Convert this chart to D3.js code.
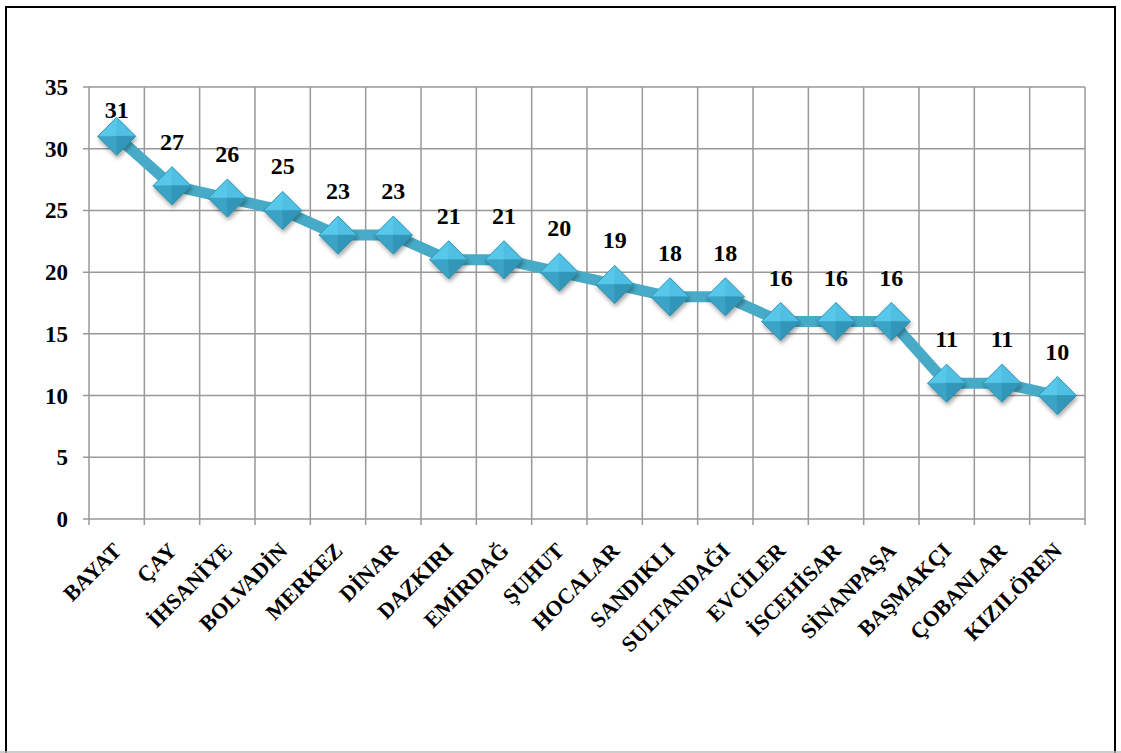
<!DOCTYPE html>
<html><head><meta charset="utf-8">
<script src="https://cdn.jsdelivr.net/npm/d3@7"></script>
<style>body{margin:0;background:#fff}svg{display:block}</style>
</head><body>
<script>
const categories = ["BAYAT","ÇAY","İHSANİYE","BOLVADİN","MERKEZ","DİNAR","DAZKIRI","EMİRDAĞ","ŞUHUT","HOCALAR","SANDIKLI","SULTANDAĞI","EVCİLER","İSCEHİSAR","SİNANPAŞA","BAŞMAKÇI","ÇOBANLAR","KIZILÖREN"];
const values = [31,27,26,25,23,23,21,21,20,19,18,18,16,16,16,11,11,10];
const yTicks = [0,5,10,15,20,25,30,35];

const W = 1121, H = 753;
const svg = d3.select("body").append("svg").attr("width", W).attr("height", H);
svg.append("rect").attr("width", W).attr("height", H).attr("fill", "#fff");
svg.append("rect").attr("x", 6).attr("y", 7).attr("width", 1109).attr("height", 760)
  .attr("fill", "none").attr("stroke", "#000").attr("stroke-width", 2);
svg.append("line").attr("x1", 0).attr("x2", W).attr("y1", 752).attr("y2", 752).attr("stroke", "#bbb").attr("stroke-width", 1.5);

const L = 89, R = 1085, T = 87, B = 519;
const x = d3.scaleBand().domain(categories).range([L, R]);
const y = d3.scaleLinear().domain([0, 35]).range([B, T]);
const font = "'Liberation Serif','Times New Roman',serif";

// horizontal gridlines
svg.append("g").selectAll("line").data(yTicks).join("line")
  .attr("x1", L - 6).attr("x2", R).attr("y1", d => y(d)).attr("y2", d => y(d))
  .attr("stroke", "#999").attr("stroke-width", 1.5);
// vertical gridlines (category boundaries)
const bounds = categories.map(c => x(c)).concat([R]);
svg.append("g").selectAll("line").data(bounds).join("line")
  .attr("x1", d => d).attr("x2", d => d).attr("y1", T).attr("y2", B + 6)
  .attr("stroke", "#999").attr("stroke-width", 1.5);

// y labels
svg.append("g").selectAll("text").data(yTicks).join("text")
  .attr("x", 68).attr("y", d => y(d)).attr("dy", "0.35em").attr("text-anchor", "end")
  .attr("font-family", font).attr("font-weight", "bold").attr("font-size", 23)
  .text(d => d);

// x labels
svg.append("g").selectAll("text").data(categories).join("text")
  .attr("transform", d => `translate(${x(d) + x.bandwidth()/2 + 6},${B + 33}) rotate(-45)`)
  .attr("text-anchor", "end")
  .attr("font-family", font).attr("font-weight", "bold").attr("font-size", 22)
  .text(d => d);

const cx = (d, i) => x(categories[i]) + x.bandwidth()/2;
const pts = values.map((v, i) => [cx(v, i), y(v)]);

// line
svg.append("path").datum(pts)
  .attr("d", d3.line())
  .attr("fill", "none").attr("stroke", "#47abc7").attr("stroke-width", 11)
  .attr("stroke-linejoin", "round").attr("stroke-linecap", "round");

// markers
const defs = svg.append("defs");
const f = defs.append("filter").attr("id", "sh").attr("x", "-50%").attr("y", "-50%").attr("width", "200%").attr("height", "200%");
f.append("feGaussianBlur").attr("in", "SourceAlpha").attr("stdDeviation", 2);
f.append("feOffset").attr("dx", 1).attr("dy", 3).attr("result", "o");
f.append("feComponentTransfer").append("feFuncA").attr("type", "linear").attr("slope", 0.35);
const m = f.append("feMerge"); m.append("feMergeNode"); m.append("feMergeNode").attr("in", "SourceGraphic");

const s = 19;
const mk = svg.append("g").selectAll("g").data(pts).join("g")
  .attr("transform", d => `translate(${d[0]},${d[1]})`).attr("filter", "url(#sh)");
const facets = [
  {p: [[0,-s],[-s,0],[0,0]], c: "#58c8ea"},
  {p: [[0,-s],[s,0],[0,0]], c: "#4fbfe3"},
  {p: [[-s,0],[0,s],[0,0]], c: "#3ba4c6"},
  {p: [[s,0],[0,s],[0,0]], c: "#3196b8"}
];
mk.selectAll("path").data(facets).join("path")
  .attr("d", d => "M" + d.p.map(q => q.join(",")).join("L") + "Z")
  .attr("fill", d => d.c).attr("stroke", d => d.c).attr("stroke-width", 0.5);
mk.append("path").attr("d", `M0,${-s}L${s},0L0,${s}L${-s},0Z`).attr("fill", "none")
  .attr("stroke", "#2a8aa8").attr("stroke-width", 0.8);

// data labels
svg.append("g").selectAll("text").data(values).join("text")
  .attr("x", (d, i) => pts[i][0]).attr("y", d => Math.max(y(d) - 36, 118))
  .attr("text-anchor", "middle")
  .attr("font-family", font).attr("font-weight", "bold").attr("font-size", 24)
  .text(d => d);
</script>
</body></html>
